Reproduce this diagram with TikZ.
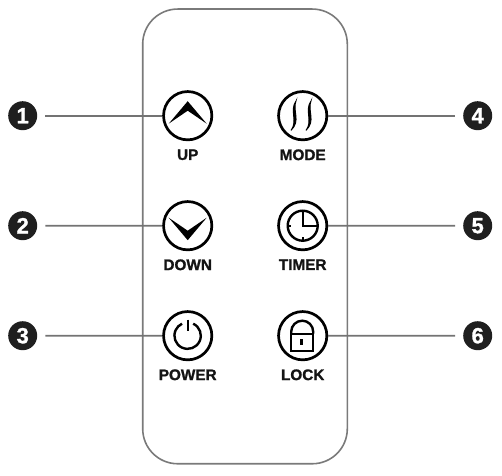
\documentclass[tikz,border=0pt]{standalone}
\usepackage{fontspec}
\setmainfont{Liberation Sans}[BoldFeatures={FakeBold=1.3}]
\usetikzlibrary{positioning}

\begin{document}
\begin{tikzpicture}[x=1pt, y=1pt, font=\bfseries,
  remote/.style={rounded corners=35pt, draw=black!52, line width=1.6pt, minimum width=204.6pt, minimum height=454.7pt, inner sep=0pt},
  btn/.style={circle, draw=black, line width=2.7pt, fill=white, minimum size=48.3pt, inner sep=0pt},
  lbl/.style={font=\fontsize{15.3}{15.3}\selectfont\bfseries, text=black!92, inner sep=0pt},
  badge/.style={circle, fill=black!88, text=white, minimum size=29pt, inner sep=0pt, font=\fontsize{22}{22}\selectfont\bfseries},
  lead/.style={draw=black!55, line width=1.7pt, shorten <=8pt},
  icon/.style={draw=black, line width=2.4pt}]
\useasboundingbox (0,0) rectangle (502,475);
\node[remote] (R) at (245,238.6) {};
\node[btn] (up) at (187.7,359.3) {};
\node[btn, below=59pt of up] (down) {};
\node[btn, below=59pt of down] (power) {};
\node[btn] (mode) at (302.7,359.3) {};
\node[btn, below=59pt of mode] (timer) {};
\node[btn, below=59pt of timer] (lock) {};
\node[lbl, below=8pt of up] (l1) {UP};
\node[lbl, below=8pt of down] (l2) {DOWN};
\node[lbl, below=8pt of power] (l3) {POWER};
\node[lbl, below=8pt of mode] (l4) {MODE};
\node[lbl, below=8pt of timer] (l5) {TIMER};
\node[lbl, below=8pt of lock] (l6) {LOCK};
\node[badge] (n1) at (22.7,359.3) {1};
\node[badge] (n2) at (22.7,249.3) {2};
\node[badge] (n3) at (22.7,139.3) {3};
\node[badge] (n4) at (477.7,359.3) {4};
\node[badge] (n5) at (477.7,249.3) {5};
\node[badge] (n6) at (477.7,139.3) {6};
\draw[lead] (n1) -- (up);
\draw[lead] (n2) -- (down);
\draw[lead] (n3) -- (power);
\draw[lead] (n4) -- (mode);
\draw[lead] (n5) -- (timer);
\draw[lead] (n6) -- (lock);
% icons
\begin{scope}[shift={(up)}]
\fill (-19,-8) -- (0,14.5) -- (19,-8) -- (0,5) -- cycle;
\end{scope}
\begin{scope}[shift={(down)}]
\fill (-19,8) -- (0,-14.5) -- (19,8) -- (0,-5) -- cycle;
\end{scope}
\begin{scope}[shift={(power)}]
\draw[icon] (5.5,12) arc[start angle=65, end angle=-245, radius=13.2];
\draw[icon, line width=2pt] (0,16) -- (0,5);
\end{scope}
\begin{scope}[shift={(mode)}]
\filldraw[line width=0.9pt] (-6.7,14.7) .. controls (-13.5,5) and (-4.5,-5) .. (-11.7,-14.7) .. controls (-1.5,-5) and (-10.5,5) .. cycle;
\filldraw[line width=0.9pt] (8.3,14.7) .. controls (1.5,5) and (10.5,-5) .. (3.3,-14.7) .. controls (13.5,-5) and (4.5,5) .. cycle;
\end{scope}
\begin{scope}[shift={(timer)}]
\draw[icon] (0,0) circle[radius=15];
\draw[icon, line width=1.8pt] (0,15) -- (0,0) -- (15,0);
\draw[icon, line width=1.8pt] (-15,0) -- (-11.5,0) (0,-15) -- (0,-11.5);
\end{scope}
\begin{scope}[shift={(lock)}]
\draw[icon] (-11.5,-15) rectangle (10.5,2);
\draw[icon] (-11.5,2) -- (-11.5,4) arc[start angle=180, end angle=0, radius=11] -- (10.5,2);
\fill (-2.3,-9) rectangle (0.3,-3);
\end{scope}
\end{tikzpicture}
\end{document}
